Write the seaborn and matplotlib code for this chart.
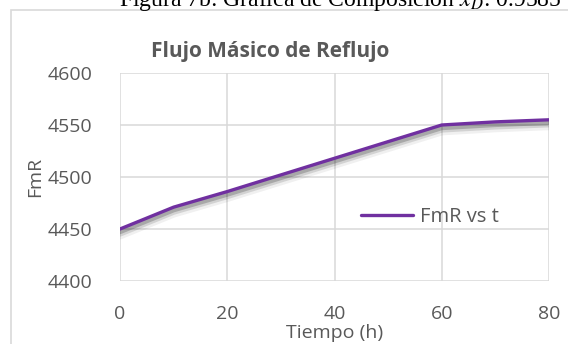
import matplotlib
matplotlib.use("Agg")
import matplotlib.pyplot as plt
import matplotlib.patheffects as pe
from matplotlib.patches import Rectangle
import seaborn as sns
import pandas as pd

tiempo = [0, 10, 20, 30, 40, 50, 60, 70, 80]
fmr = [4450, 4471, 4486, 4502, 4518, 4534, 4550, 4553, 4555]
serie = "FmR vs t"
x_ticks = [0, 20, 40, 60, 80]
y_ticks = [4400, 4450, 4500, 4550, 4600]

df = pd.DataFrame({"Tiempo (h)": tiempo, "FmR": fmr, "serie": serie})

sns.set_theme(style="white")
plt.rcParams["font.family"] = ["Open Sans", "DejaVu Sans"]
plt.rcParams["mathtext.fontset"] = "stix"

W, H = 568, 344
fig = plt.figure(figsize=(W / 100, H / 100), dpi=100)
ax = fig.add_axes([120 / W, 1 - 281 / H, 429 / W, 208 / H])

txt = "#595959"
grid = "#D9D9D9"

sns.lineplot(data=df, x="Tiempo (h)", y="FmR", hue="serie", palette=["#7030A0"],
             ax=ax, linewidth=2.4, legend=True)
line = ax.lines[0]
line.set_path_effects([
    pe.SimpleLineShadow(offset=(0, -4), shadow_color="black", alpha=0.06, linewidth=7),
    pe.SimpleLineShadow(offset=(0, -3), shadow_color="black", alpha=0.12, linewidth=5),
    pe.SimpleLineShadow(offset=(0, -2), shadow_color="black", alpha=0.2, linewidth=3.5),
    pe.Normal(),
])

ax.set_xlim(0, 80)
ax.set_ylim(4400, 4600)
ax.set_xticks(x_ticks)
ax.set_yticks(y_ticks)
ax.grid(True, color=grid, linewidth=1.1)
for s in ax.spines.values():
    s.set_visible(False)
ax.tick_params(axis="both", length=0, labelsize=14, labelcolor=txt)
ax.tick_params(axis="x", pad=17)
ax.tick_params(axis="y", pad=20)
ax.set_axisbelow(True)

ax.set_xlabel("Tiempo (h)", fontsize=14, color=txt, labelpad=1)
ax.set_ylabel("FmR", fontsize=14, color=txt, labelpad=2)

leg = ax.legend(loc="center left", bbox_to_anchor=(0.562, 0.308), frameon=False,
                fontsize=14.5, handlelength=2.6, handletextpad=0.3, borderaxespad=0,
                borderpad=0)
for t in leg.get_texts():
    t.set_color(txt)
for h in leg.get_lines():
    h.set_linewidth(2.4)

fig.text(270 / W, 1 - 51 / H, "Flujo Másico de Reflujo", ha="center", va="center",
         fontsize=15, fontweight="bold", color=txt)

fig.text(340 / W, 1 - 6 / H, "Figura 7b: Gráfica de Composición $x_D$: 0.9585",
         ha="center", va="baseline", fontsize=17, color="black",
         family=["Liberation Serif", "DejaVu Serif"])

fig.patches.append(Rectangle((10.5 / W, -0.1), 1.2, 1 - 10.5 / H + 0.1,
                             transform=fig.transFigure, fill=False,
                             edgecolor=grid, linewidth=1.2))

fig.savefig("out.png", dpi=100)
